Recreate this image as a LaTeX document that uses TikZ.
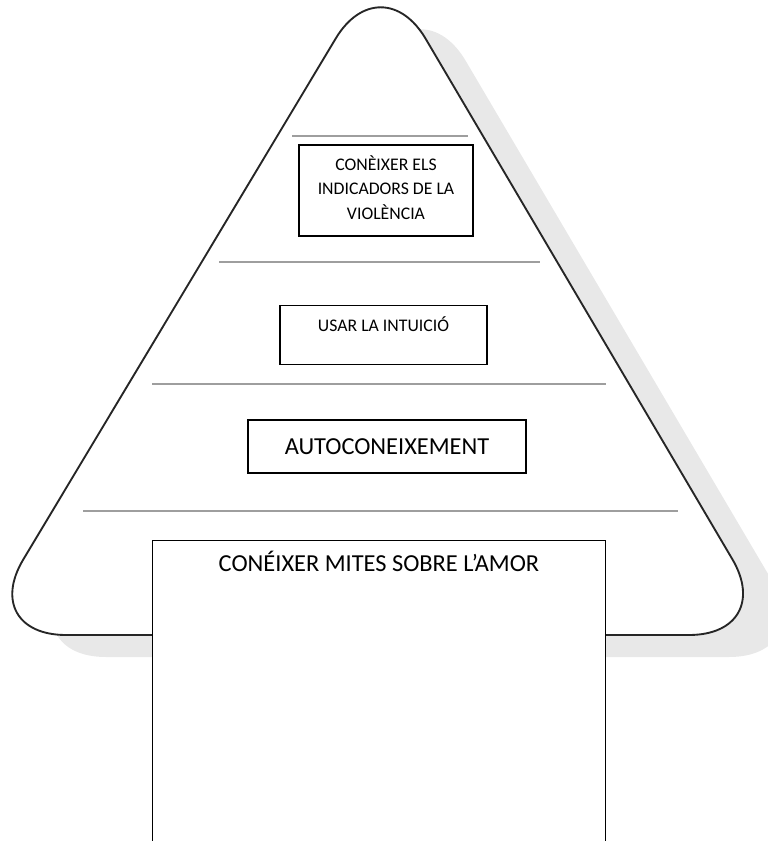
\documentclass[tikz,border=0pt]{standalone}
\usepackage{fontspec}
\setmainfont{Carlito}
\usetikzlibrary{shapes}

\begin{document}
\begin{tikzpicture}[x=0.75pt, y=-0.75pt, thick,
    box/.style={draw, rectangle, fill=white, line width=1pt, inner sep=0pt},
    shelf/.style={draw=black!38, line width=1.9pt},
    shadowfill/.style={fill=black!9}]
        % piràmide amb ombra, separadors i caixes
        \useasboundingbox (0,0) rectangle (767,841);
        \fill[shadowfill, rounded corners=66pt, shift={(40,22)}] (379,635) -- (-22,635) -- (381,-37) -- (777,635) -- cycle;
        \draw[fill=white, draw=black!85, line width=1.4pt, rounded corners=66pt] (379,635) -- (-22,635) -- (381,-37) -- (777,635) -- cycle;
        \foreach \y/\xa/\xb in {136/292/468, 262/219/540, 384/152/606, 511/83/678}
            \draw[shelf] (\xa,\y) -- (\xb,\y);

        \node (violencia) [box, align=center, minimum width=130.5pt, minimum height=68.25pt, text depth=4.5pt, font=\fontsize{13.3}{18.4}\selectfont] at (386,190.5) {CONÈIXER ELS\\INDICADORS DE LA\\VIOLÈNCIA};
        \node (intuicio) [box, anchor=north, minimum width=155.25pt, text height=19.1pt, text depth=25.1pt, font=\fontsize{13.3}{16}\selectfont] at (383.5,305) {USAR LA INTUICIÓ};
        \node (autoconeixement) [box, minimum width=208.5pt, minimum height=39.75pt, font=\fontsize{18.3}{22}\selectfont] at (387,446.5) {AUTOCONEIXEMENT};
        \node (mites) [box, anchor=north, minimum width=339.75pt, text height=23.25pt, text depth=216.75pt, font=\fontsize{18.3}{22}\selectfont] at (379,540) {CONÉIXER MITES SOBRE L’AMOR};
    \end{tikzpicture}
\end{document}
